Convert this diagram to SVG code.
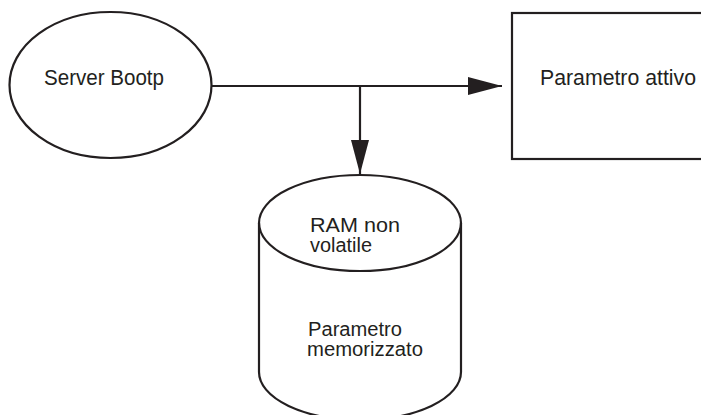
<svg xmlns="http://www.w3.org/2000/svg" width="701" height="415" viewBox="0 0 701 415">
<defs>
<style>
.shape{fill:#fff;stroke:#231f20;stroke-width:2.2}
.edge{fill:none;stroke:#231f20;stroke-width:2.2}
text{font-family:"Liberation Sans",Arial,sans-serif;font-size:20px;fill:#231f20}
.big{font-size:22px}
</style>
<marker id="arr" markerWidth="34" markerHeight="18" refX="34" refY="9" orient="auto" markerUnits="userSpaceOnUse">
<path d="M0,0 L34,9 L0,18 Z" fill="#231f20"/>
</marker>
</defs>
<g id="connectors">
<path class="edge" d="M212,86 H502" marker-end="url(#arr)"/>
<path class="edge" d="M360,86 V174" marker-end="url(#arr)"/>
</g>
<g id="server">
<ellipse class="shape" cx="110.5" cy="85" rx="101" ry="73"/>
<text class="big" x="44" y="85" textLength="120" lengthAdjust="spacingAndGlyphs">Server Bootp</text>
</g>
<g id="attivo">
<rect class="shape" x="512" y="13" width="200" height="146"/>
<text class="big" x="540" y="85" textLength="156" lengthAdjust="spacingAndGlyphs">Parametro attivo</text>
</g>
<g id="ram">
<path class="shape" d="M259,223 V372 A101,48 0 0 0 461,372 V223 A101,48 0 0 0 259,223 Z"/>
<path class="edge" d="M259,223 A101,48 0 0 0 461,223"/>
<text x="310" y="232" textLength="90" lengthAdjust="spacingAndGlyphs">RAM non</text>
<text x="310" y="252" textLength="62" lengthAdjust="spacingAndGlyphs">volatile</text>
<text x="308" y="336" textLength="94" lengthAdjust="spacingAndGlyphs">Parametro</text>
<text x="307" y="356" textLength="116" lengthAdjust="spacingAndGlyphs">memorizzato</text>
</g>
</svg>
